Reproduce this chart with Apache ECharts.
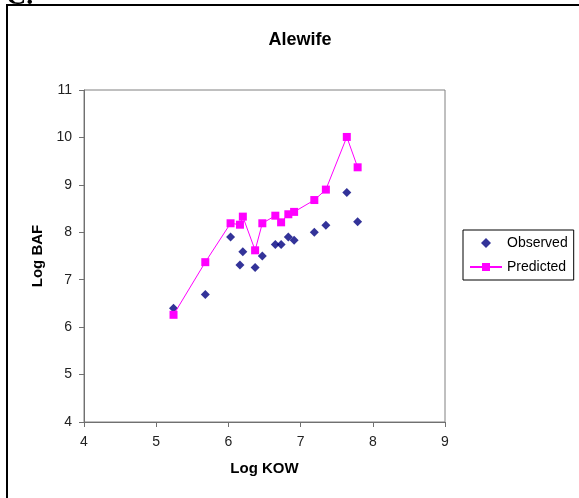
<!DOCTYPE html>
<html><head><meta charset="utf-8">
<script src="https://cdn.jsdelivr.net/npm/echarts@6/dist/echarts.min.js"></script>
<style>html,body{margin:0;padding:0;background:#fff}#c{width:579px;height:498px}</style>
</head><body><div id="c"></div>
<script>
var logKow = [5.24, 5.68, 6.03, 6.16, 6.20, 6.37, 6.47, 6.65, 6.73, 6.83, 6.91, 7.19, 7.35, 7.64, 7.79];
var observed = [6.40, 6.69, 7.90, 7.31, 7.59, 7.26, 7.50, 7.74, 7.74, 7.90, 7.83, 8.00, 8.15, 8.84, 8.22];
var predicted = [6.26, 7.37, 8.19, 8.16, 8.33, 7.62, 8.19, 8.35, 8.21, 8.38, 8.43, 8.68, 8.90, 10.01, 9.37];
var xTicks = [4, 5, 6, 7, 8, 9];
var yTicks = [4, 5, 6, 7, 8, 9, 10, 11];

var font = 'Liberation Sans, Arial, sans-serif';
var chart = echarts.init(document.getElementById('c'));
chart.setOption({
  animation: false,
  backgroundColor: '#fff',
  title: {
    text: 'Alewife', left: 295, top: 26, textAlign: 'center',
    textStyle: {fontFamily: font, fontSize: 18, fontWeight: 'bold', color: '#000'}
  },
  graphic: [
    {type: 'rect', shape: {x: 7, y: 5, width: 620, height: 560}, style: {fill: 'none', stroke: '#000', lineWidth: 2}, silent: true, z: 100},
    {type: 'text', x: 6, y: -17, style: {text: 'C.', font: 'bold 28px "Liberation Serif", serif', fill: '#000'}, silent: true, z: 100}
  ],
  legend: {
    orient: 'vertical', left: 463, top: 230,
    padding: [6, 6, 6, 6], itemGap: 10, itemWidth: 32, itemHeight: 10,
    borderColor: '#000', borderWidth: 1, symbolKeepAspect: true,
    textStyle: {fontFamily: font, fontSize: 14, color: '#000'},
    data: [
      {name: 'Observed', icon: 'path://M5,0 L10,5 L5,10 L0,5 Z'},
      {name: 'Predicted'}
    ]
  },
  grid: {left: 84, top: 90, width: 361, height: 332, show: true, borderColor: '#808080', borderWidth: 1},
  xAxis: {
    type: 'value', min: xTicks[0], max: xTicks[xTicks.length - 1], interval: 1,
    name: 'Log KOW', nameLocation: 'middle', nameGap: 39,
    nameTextStyle: {fontFamily: font, fontSize: 15, fontWeight: 'bold', color: '#000'},
    axisLine: {lineStyle: {color: '#707070', width: 1}},
    axisTick: {show: true, length: 5, lineStyle: {color: '#707070'}},
    axisLabel: {fontFamily: font, fontSize: 14, color: '#222', margin: 13},
    splitLine: {show: false}
  },
  yAxis: {
    type: 'value', min: yTicks[0], max: yTicks[yTicks.length - 1], interval: 1,
    name: 'Log BAF', nameLocation: 'middle', nameGap: 38, nameRotate: 90,
    nameTextStyle: {fontFamily: font, fontSize: 15, fontWeight: 'bold', color: '#000'},
    axisLine: {show: true, lineStyle: {color: '#707070', width: 1}},
    axisTick: {show: true, length: 5, lineStyle: {color: '#707070'}},
    axisLabel: {fontFamily: font, fontSize: 14, color: '#222', margin: 12},
    splitLine: {show: false}
  },
  series: [
    {
      name: 'Observed', type: 'scatter', symbol: 'diamond', symbolSize: 9,
      itemStyle: {color: '#000080'},
      data: logKow.map(function (x, i) { return [x, observed[i]]; })
    },
    {
      name: 'Predicted', type: 'line', symbol: 'rect', symbolSize: 8, showAllSymbol: true,
      itemStyle: {color: '#FF00FF'}, lineStyle: {color: '#FF00FF', width: 1},
      data: logKow.map(function (x, i) { return [x, predicted[i]]; })
    }
  ]
});
</script></body></html>
